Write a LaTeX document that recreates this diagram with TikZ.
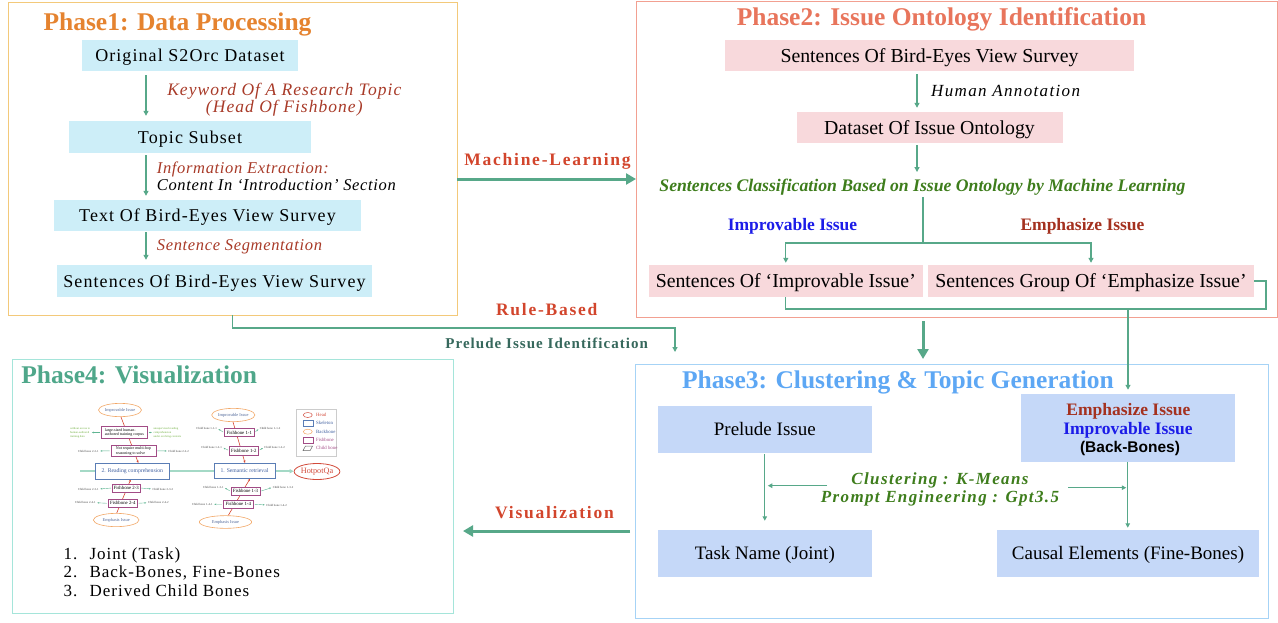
\documentclass[tikz,border=0pt]{standalone}
\usepackage{fontspec}
\setmainfont{Liberation Serif}
\newfontfamily\lsFour[LetterSpace=4]{Liberation Serif}
\newfontfamily\lsSix[LetterSpace=6]{Liberation Serif}
\newfontfamily\lsSeven[LetterSpace=7]{Liberation Serif}
\newfontfamily\lsEight[LetterSpace=8]{Liberation Serif}
\newfontfamily\lsTen[LetterSpace=10]{Liberation Serif}
\newfontfamily\sansB{Liberation Sans}
\usetikzlibrary{arrows.meta,calc,shapes.geometric,backgrounds}
\definecolor{c1border}{HTML}{F3C97A}
\definecolor{c1title}{HTML}{E5832F}
\definecolor{c1fill}{HTML}{CDEEF8}
\definecolor{dred}{HTML}{A83A28}
\definecolor{c2border}{HTML}{F2A091}
\definecolor{c2title}{HTML}{E8755C}
\definecolor{c2fill}{HTML}{F8D9DC}
\definecolor{gcls}{HTML}{3E7D1C}
\definecolor{iblue}{HTML}{1C1CE8}
\definecolor{ered}{HTML}{A4311F}
\definecolor{c3border}{HTML}{A6D3F6}
\definecolor{c3title}{HTML}{5DA7F4}
\definecolor{c3fill}{HTML}{C5D8F8}
\definecolor{c4border}{HTML}{A5E5DA}
\definecolor{c4title}{HTML}{4FA78A}
\definecolor{ac}{HTML}{57A889}
\definecolor{redl}{HTML}{D2452C}
\definecolor{piic}{HTML}{36685C}
\definecolor{skb}{HTML}{5A7DB5}
\definecolor{skt}{HTML}{3F5F9F}
\definecolor{fbb}{HTML}{A24C86}
\definecolor{elb}{HTML}{F2A766}
\definecolor{elt}{HTML}{50689A}
\definecolor{bonec}{HTML}{D6452F}
\definecolor{spc}{HTML}{A4D9C6}
\definecolor{gtc}{HTML}{6FAE3F}
\definecolor{cbac}{HTML}{5FB592}
\definecolor{hqc}{HTML}{D24A3A}
\begin{document}
\begin{tikzpicture}[x=1pt,y=-1pt,
  frame/.style={draw, line width=1pt, inner sep=0, outer sep=0},
  ttl/.style={inner sep=0, font=\bfseries\fontsize{25.5}{28}\selectfont},
  p1box/.style={fill=c1fill, inner sep=0, text depth=0pt, font=\lsSix\fontsize{18}{20}\selectfont},
  p2box/.style={fill=c2fill, inner sep=0, text depth=0pt, font=\fontsize{19.8}{22}\selectfont},
  p3box/.style={fill=c3fill, inner sep=0, text depth=0pt, font=\fontsize{19}{22}\selectfont},
  labk/.style={inner sep=0, font=\lsSix\itshape\fontsize{17.5}{20}\selectfont},
  labi/.style={inner sep=0, font=\lsFour\itshape\fontsize{16.5}{19}\selectfont},
  hum/.style={inner sep=0, font=\lsEight\itshape\fontsize{17}{19}\selectfont},
  cls/.style={inner sep=0, text=gcls, font=\bfseries\itshape\fontsize{17.7}{20}\selectfont},
  clu/.style={inner sep=0, text=gcls, font=\lsEight\bfseries\itshape\fontsize{17}{19}\selectfont},
  bl/.style={inner sep=0, text=iblue, font=\bfseries\fontsize{17.5}{20}\selectfont},
  rd/.style={inner sep=0, text=ered, font=\bfseries\fontsize{17.5}{20}\selectfont},
  mid/.style={inner sep=0, text=redl, font=\lsTen\bfseries\fontsize{17.5}{20}\selectfont},
  pii/.style={inner sep=0, text=piic, font=\lsSeven\bfseries\fontsize{15}{18}\selectfont},
  lst/.style={inner sep=0, font=\lsSix\fontsize{17}{19}\selectfont},
  arr/.style={draw=ac, line width=1.2pt, -{Triangle[width=5pt,length=5pt]}},
  arrS/.style={draw=ac, line width=1pt, -{Triangle[width=4.5pt,length=4.5pt]}},
  ln/.style={draw=ac, line width=1.2pt},
  bigarr/.style={draw=ac, line width=3pt, -{Triangle[width=11pt,length=10pt]}},
  sk/.style={draw=skb, fill=white, line width=0.8pt, inner sep=0, text=skt, font=\fontsize{5.7}{6.5}\selectfont},
  fb/.style={draw=fbb, fill=white, line width=0.7pt, inner sep=0, font=\fontsize{4.8}{5.4}\selectfont},
  fbt/.style={draw=fbb, fill=white, line width=0.7pt, inner sep=0.8pt, align=left, font=\fontsize{4}{4.6}\selectfont},
  ell/.style={ellipse, draw=elb, line width=0.6pt, fill=white, inner sep=0, text=elt, font=\fontsize{4.4}{5}\selectfont},
  cb/.style={inner sep=0, text=black!75, font=\fontsize{3}{3.5}\selectfont},
  gt/.style={inner sep=0, align=left, text=gtc, font=\fontsize{2.9}{3.7}\selectfont},
  bone/.style={draw=bonec, line width=0.6pt, -{Stealth[length=2.5pt,width=2.2pt]}},
  cbar/.style={draw=cbac, line width=0.4pt, -{Stealth[length=2pt,width=1.6pt]}, shorten <=1pt, shorten >=1.5pt},
  spine/.style={draw=spc, line width=1.5pt, -{Triangle[length=4pt,width=4pt]}},
  lgt/.style={inner sep=0, anchor=west, font=\fontsize{4.8}{5.4}\selectfont}
]
\useasboundingbox (0,0) rectangle (1278,622);

% ---------------- Phase 1 ----------------
\node[frame, draw=c1border, minimum width=449, minimum height=313] (P1) at (232.5,158.5) {};
\node[ttl, text=c1title, anchor=base] (T1) at (177.5,30) {Phase1: Data Processing};
\node[p1box, minimum width=216, minimum height=31] (o) at (190,55.5) {Original S2Orc Dataset};
\node[p1box, minimum width=242, minimum height=32] (ts) at (190,137) {Topic Subset};
\node[p1box, minimum width=307, minimum height=31] (tb) at (207.5,215.5) {Text Of Bird-Eyes View Survey};
\node[p1box, minimum width=315, minimum height=32] (sb) at (214.5,281) {Sentences Of Bird-Eyes View Survey};
\coordinate (a1) at (146,0);
\draw[arr, shorten <=4pt, shorten >=5pt] (o.south -| a1) -- (ts.north -| a1);
\draw[arr, shorten <=2pt, shorten >=4pt] (ts.south -| a1) -- (tb.north -| a1);
\draw[arr, shorten <=1pt, shorten >=5pt] (tb.south -| a1) -- (sb.north -| a1);
\node[labk, text=dred, anchor=base] (k1) at (284.3,95) {Keyword Of A Research Topic};
\node[labk, text=dred, anchor=base] (k2) at (284.3,112.3) {(Head Of Fishbone)};
\node[labi, text=dred, anchor=base west] (ie) at (156.7,173.3) {Information Extraction:};
\node[labi, anchor=base west] (ci) at (156.7,190) {Content In ‘Introduction’ Section};
\node[labi, text=dred, anchor=base west] (ss) at (156.7,250.7) {Sentence Segmentation};

% ---------------- Phase 2 ----------------
\node[frame, draw=c2border, minimum width=641, minimum height=316] (P2) at (956.5,159) {};
\node[ttl, text=c2title, anchor=base] (T2) at (941.5,25) {Phase2: Issue Ontology Identification};
\node[p2box, minimum width=409, minimum height=31] (s1) at (929.5,55.5) {Sentences Of Bird-Eyes View Survey};
\node[p2box, minimum width=266, minimum height=31] (ds) at (929.5,127.5) {Dataset Of Issue Ontology};
\coordinate (a2) at (917,0);
\draw[arr, shorten <=3pt, shorten >=4pt] (s1.south -| a2) -- (ds.north -| a2);
\node[hum, anchor=base west] (ha) at (931,96.7) {Human Annotation};
\node[cls, anchor=base] (cl) at (922.5,191.7) {Sentences Classification Based on Issue Ontology by Machine Learning};
\draw[arr, shorten <=2pt, shorten >=7pt] (ds.south -| a2) -- (cl.north -| a2);
\coordinate (br) at (923,243);
\draw[ln, shorten <=1.5pt] (cl.south -| br) -- (br);
\node[p2box, minimum width=274.4, minimum height=32] (si) at (785.8,281) {Sentences Of ‘Improvable Issue’};
\node[p2box, minimum width=326, minimum height=32] (sg) at (1091,281) {Sentences Group Of ‘Emphasize Issue’};
\draw[arr, shorten >=2pt] (br) -| (si.north);
\draw[arr, shorten >=2pt] (br) -| (sg.north);
\node[bl, anchor=base] (impL) at (792.5,230) {Improvable Issue};
\node[rd, anchor=base] (empL) at (1082.5,230) {Emphasize Issue};
\coordinate (lpR) at (1266,309);
\draw[ln] (si.south) |- (lpR) |- (sg.east);
\coordinate (lpM) at (1128,309);

% ---------------- Phase 3 ----------------
\node[frame, draw=c3border, minimum width=633.5, minimum height=254] (P3) at (951.75,491) {};
\node[ttl, text=c3title, anchor=base] (T3) at (898,388.3) {Phase3: Clustering \& Topic Generation};
\node[p3box, minimum width=213.7, minimum height=46.7] (pr) at (764.8,429.3) {Prelude Issue};
\node[p3box, minimum width=213.7, minimum height=46.7] (tn) at (764.8,553.3) {Task Name (Joint)};
\node[p3box, minimum width=213.5, minimum height=67.7] (eb) at (1127.75,427.8) {};
\node[rd, anchor=base] (eb1) at (1128.4,415) {Emphasize Issue};
\node[bl, anchor=base] (eb2) at (1128,434) {Improvable Issue};
\node[inner sep=0, anchor=base, font=\sansB\bfseries\fontsize{15.5}{18}\selectfont] (eb3) at (1130,452.7) {(Back-Bones)};
\node[p3box, minimum width=262, minimum height=46.7] (ce) at (1128,553.3) {Causal Elements (Fine-Bones)};
\draw[arrS, shorten <=1pt, shorten >=9pt] (pr.south) -- (tn.north);
\draw[arrS, shorten >=2pt] (eb.south) -- (eb.south |- ce.north);
\draw[arr, shorten <=0pt, shorten >=4pt] (lpM) -- (lpM |- eb.north);
\node[clu, anchor=base] (cq1) at (940,484) {Clustering : K-Means};
\node[clu, anchor=base] (cq2) at (940,502.7) {Prompt Engineering : Gpt3.5};
\coordinate (cla) at (827,485.7);
\draw[arrS, shorten >=3pt] (cla) -- (cla -| pr.south);
\coordinate (clb) at (1068,487.7);
\draw[arrS, shorten >=1.5pt] (clb) -- (clb -| eb.south);
\coordinate (a3) at (923,0);

% ---------------- Phase 4 ----------------
\node[frame, draw=c4border, minimum width=440.3, minimum height=254] (P4) at (232.85,486) {};
\node[ttl, text=c4title, anchor=base] (T4) at (139.2,383.3) {Phase4: Visualization};
\node[lst, anchor=base west] (n1) at (63.3,559.3) {1.};
\node[lst, anchor=base west] (l1) at (89.3,559.3) {Joint (Task)};
\node[lst, anchor=base west] (n2) at (63.3,577.7) {2.};
\node[lst, anchor=base west] (l2) at (89.3,577.7) {Back-Bones, Fine-Bones};
\node[lst, anchor=base west] (n3) at (63.3,596) {3.};
\node[lst, anchor=base west] (l3) at (89.3,596) {Derived Child Bones};

% fishbone thumbnail
\node[sk, minimum width=73.3, minimum height=15.7] (rc) at (132.3,471.2) {2. Reading comprehension};
\node[sk, minimum width=61, minimum height=15] (sr) at (244.5,470.8) {1. Semantic retrieval};
\node[ellipse, draw=hqc, fill=white, text=hqc, line width=0.8pt, inner sep=0, minimum width=44, minimum height=16, font=\fontsize{8.2}{9}\selectfont] (hq) at (317,471.5) {HotpotQa};
\node[ell, minimum width=36.7, minimum height=13.3] (ie2) at (120,410) {Improvable Issue};
\node[fbt, minimum width=45.7, minimum height=11.7] (fb21) at (124.5,432.5) {large-sized human-\\authored training corpus};
\node[fbt, minimum width=45, minimum height=11.7] (fb22) at (133.5,450.8) {Not require multi-hop\\reasoning to solve};
\node[fb, minimum width=27.7, minimum height=8] (fb23) at (126.2,488) {Fishbone 2-3};
\node[fb, minimum width=29, minimum height=8] (fb24) at (122.8,503.3) {Fishbone 2-4};
\node[ell, minimum width=45.7, minimum height=13.3] (ee2) at (116.2,520) {Emphasis Issue};
\node[gt, anchor=west] (gl) at (70,432.8) {without access to\\human-authored\\training data};
\node[gt, anchor=west] (gr) at (153.3,432.8) {unsupervised reading\\comprehension\\under evolving contexts};
\node[cb] (c221) at (88.3,451) {Child bone 2-2-1};
\node[cb] (c222) at (178.7,451) {Child bone 2-2-2};
\node[cb] (c231) at (88.3,489) {Child bone 2-3-1};
\node[cb] (c232) at (162.8,489) {Child bone 2-3-2};
\node[cb] (c241) at (85.3,502.7) {Child bone 2-4-1};
\node[cb] (c242) at (158.3,502.7) {Child bone 2-4-2};
\node[ell, minimum width=43.3, minimum height=13.3] (ie1) at (233.3,415) {Improvable Issue};
\node[fb, minimum width=30, minimum height=8.3] (fb11) at (239.3,432.5) {Fishbone 1-1};
\node[fb, minimum width=29, minimum height=9] (fb12) at (243.8,450.5) {Fishbone 1-2};
\node[fb, minimum width=29, minimum height=8] (fb13) at (245.5,491.3) {Fishbone 1-3};
\node[fb, minimum width=30, minimum height=8.3] (fb14) at (238.3,504.2) {Fishbone 1-4};
\node[ell, minimum width=52.3, minimum height=12.7] (ee1) at (225.5,522) {Emphasis Issue};
\node[cb] (c111) at (206.7,428.3) {Child bone 1-1-1};
\node[cb] (c112) at (270,428.3) {Child bone 1-1-2};
\node[cb] (c121) at (211.7,447.3) {Child bone 1-2-1};
\node[cb] (c122) at (274.7,447.3) {Child bone 1-2-2};
\node[cb] (c131) at (213.3,487.3) {Child bone 1-3-1};
\node[cb] (c132) at (283,487.3) {Child bone 1-3-2};
\node[cb] (c141) at (202.3,504.3) {Child bone 1-4-1};
\node[cb] (c142) at (276.7,505) {Child bone 1-4-2};
% legend
\node[draw=black!20, line width=0.5pt, inner sep=0, minimum width=40, minimum height=47.7] (lg) at (316.7,432.8) {};
\node[ellipse, draw=hqc, line width=0.5pt, inner sep=0, minimum width=9, minimum height=5] (lh) at (307.8,415) {};
\node[lgt, text=hqc] (lht) at (316,415) {Head};
\node[draw=skb, line width=0.5pt, inner sep=0, minimum width=10, minimum height=5.5] (ls) at (307.8,423.3) {};
\node[lgt, text=skt] (lst) at (316,423.3) {Skeleton};
\node[ellipse, draw=elb, line width=0.5pt, inner sep=0, minimum width=9, minimum height=5] (lb) at (307.8,431.7) {};
\node[lgt, text=skt] (lbt) at (316,431.7) {Backbone};
\node[draw=fbb, line width=0.5pt, inner sep=0, minimum width=10, minimum height=5.5] (lf) at (307.8,440) {};
\node[lgt, text=fbb] (lft) at (316,440) {Fishbone};
\draw[black!60, line width=0.5pt] (303,450.6) -- (305.5,446) -- (312.6,446) -- (310.1,450.6) -- cycle;
\node[lgt, text=fbb] (lct) at (316,448.3) {Child bone};

% child-bone arrows
\draw[cbar] (fb21.west) -- (gl.east |- fb21.west);
\draw[cbar] (fb21.east) -- (gr.west |- fb21.east);
\draw[cbar] (fb22.west) -- (c221.east);
\draw[cbar] (fb22.east) -- (c222.west);
\draw[cbar] (fb23.west) -- (c231.east);
\draw[cbar] (fb23.east) -- (c232.west);
\draw[cbar] (fb24.west) -- (c241.east);
\draw[cbar] (fb24.east) -- (c242.west);
\draw[cbar] (fb11.west) -- (c111.east);
\draw[cbar] (fb11.east) -- (c112.west);
\draw[cbar] (fb12.west) -- (c121.east);
\draw[cbar] (fb12.east) -- (c122.west);
\draw[cbar] (fb13.west) -- (c131.east);
\draw[cbar] (fb13.east) -- (c132.west);
\draw[cbar] (fb14.west) -- (c141.east);
\draw[cbar] (fb14.east) -- (c142.west);

\begin{pgfonlayer}{background}
\coordinate (spL) at (80,471.2);
\draw[spine] (spL) -- (spL -| hq.west);
\coordinate (b1a) at (121,0);
\coordinate (b1b) at (138.3,0);
\draw[bone] (ie2.south -| b1a) -- (rc.north -| b1b);
\coordinate (b2a) at (116.7,0);
\coordinate (b2b) at (130.7,0);
\draw[bone] (ee2.north -| b2a) -- (rc.south -| b2b);
\coordinate (b3a) at (233,0);
\coordinate (b3b) at (245,0);
\draw[bone] (ie1.south -| b3a) -- (sr.north -| b3b);
\coordinate (b4a) at (228.3,0);
\coordinate (b4b) at (250,0);
\draw[bone] (ee1.north -| b4a) -- (sr.south -| b4b);
\end{pgfonlayer}

% ---------------- between phases ----------------
\node[mid, anchor=base] (mlL) at (547.5,165) {Machine-Learning};
\coordinate (mlY) at (0,179);
\draw[bigarr] (P1.east |- mlY) -- (P2.west |- mlY);
\node[mid, anchor=base] (rbL) at (546.7,315) {Rule-Based};
\coordinate (rbR) at (675,328);
\coordinate (piE) at (675,352);
\draw[arr] (P1.south) |- (rbR) -- (piE);
\node[pii, anchor=base] (piL) at (546.7,348.3) {Prelude Issue Identification};
\draw[bigarr, shorten <=4pt, shorten >=5pt] (P2.south -| a3) -- (P3.north -| a3);
\node[mid, anchor=base] (vzL) at (554.5,518.3) {Visualization};
\coordinate (vzY) at (0,531);
\draw[bigarr, shorten <=5pt, shorten >=10pt] (P3.west |- vzY) -- (P4.east |- vzY);
\end{tikzpicture}
\end{document}
